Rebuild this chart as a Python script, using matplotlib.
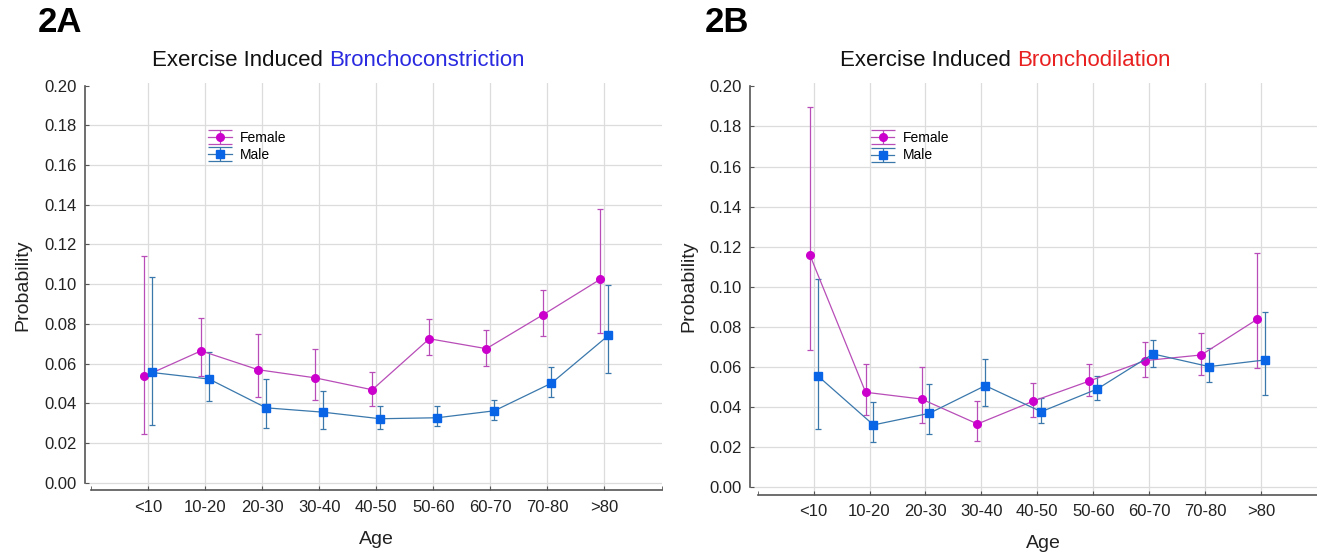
import numpy as np
import matplotlib
matplotlib.use("Agg")
import matplotlib.pyplot as plt
from matplotlib.lines import Line2D
from matplotlib.container import ErrorbarContainer
from matplotlib.legend_handler import HandlerErrorbar
from matplotlib.offsetbox import TextArea, HPacker, AnnotationBbox

plt.rcParams["font.family"] = ["Liberation Sans", "DejaVu Sans"]

# ---------------- data ----------------
age_groups = ["<10", "10-20", "20-30", "30-40", "40-50", "50-60", "60-70", "70-80", ">80"]

# 2A: bronchoconstriction
a_female = [0.0535, 0.0664, 0.0569, 0.0528, 0.0468, 0.0725, 0.0675, 0.0847, 0.1025]
a_female_lo = [0.0243, 0.0537, 0.0434, 0.0414, 0.0386, 0.0641, 0.0590, 0.0737, 0.0752]
a_female_hi = [0.1140, 0.0831, 0.0750, 0.0673, 0.0559, 0.0827, 0.0770, 0.0973, 0.1380]
a_male = [0.0555, 0.0522, 0.0377, 0.0355, 0.0322, 0.0327, 0.0362, 0.0501, 0.0742]
a_male_lo = [0.0292, 0.0413, 0.0273, 0.0270, 0.0268, 0.0283, 0.0315, 0.0434, 0.0550]
a_male_hi = [0.1037, 0.0660, 0.0522, 0.0464, 0.0384, 0.0384, 0.0416, 0.0585, 0.0997]

# 2B: bronchodilation
b_female = [0.1161, 0.0474, 0.0440, 0.0316, 0.0430, 0.0530, 0.0632, 0.0660, 0.0838]
b_female_lo = [0.0685, 0.0359, 0.0319, 0.0231, 0.0351, 0.0453, 0.0552, 0.0562, 0.0595]
b_female_hi = [0.1895, 0.0617, 0.0602, 0.0432, 0.0520, 0.0615, 0.0723, 0.0770, 0.1170]
b_male = [0.0557, 0.0311, 0.0369, 0.0507, 0.0377, 0.0490, 0.0665, 0.0602, 0.0635]
b_male_lo = [0.0291, 0.0227, 0.0266, 0.0407, 0.0319, 0.0433, 0.0598, 0.0525, 0.0462]
b_male_hi = [0.1038, 0.0424, 0.0514, 0.0639, 0.0444, 0.0553, 0.0735, 0.0695, 0.0872]

y_ticks = [0.00, 0.02, 0.04, 0.06, 0.08, 0.10, 0.12, 0.14, 0.16, 0.18, 0.20]

F_MARK = "#cc00cc"
F_LINE = "#b84db8"
M_MARK = "#0a64e6"
M_LINE = "#3a78ac"
GRID = "#dcdcdc"
SPINE = "#555555"


class WideCapHandler(HandlerErrorbar):
    # legend caps span the whole handle, like the original
    def create_artists(self, *args, **kwargs):
        artists = super().create_artists(*args, **kwargs)
        for a in artists:
            if isinstance(a, Line2D) and a.get_marker() == "_":
                a.set_markersize(17)
        return artists


def draw_panel(ax, female, f_lo, f_hi, male, m_lo, m_hi, xlim, ybot, legend_xy):
    x = np.arange(len(age_groups))
    f = np.array(female)
    m = np.array(male)
    ferr = [f - np.array(f_lo), np.array(f_hi) - f]
    merr = [m - np.array(m_lo), np.array(m_hi) - m]

    ax.errorbar(x - 0.07, f, yerr=ferr, color=F_LINE, lw=0.9, elinewidth=0.9,
                capsize=2.2, capthick=0.9, marker="o", ms=5.5, mfc=F_MARK,
                mec=F_MARK, label="Female", zorder=3)
    ax.errorbar(x + 0.07, m, yerr=merr, color=M_LINE, lw=0.9, elinewidth=0.9,
                capsize=2.2, capthick=0.9, marker="s", ms=5.8, mfc=M_MARK,
                mec=M_MARK, label="Male", zorder=3)

    ax.set_xlim(*xlim)
    ax.set_ylim(ybot, 0.2015)
    ax.set_xticks(x)
    ax.set_xticklabels(age_groups)
    ax.set_xticks([-1, 9], minor=True)
    ax.set_yticks(y_ticks)
    ax.set_yticklabels([f"{v:.2f}" for v in y_ticks])

    ax.grid(True, color=GRID, lw=0.9)
    ax.get_ygridlines()[-1].set_visible(False)
    ax.set_axisbelow(True)

    for s in ["top", "right"]:
        ax.spines[s].set_visible(False)
    ax.spines["left"].set_bounds(0, 0.2)
    ax.spines["bottom"].set_bounds(-1, 9)
    for s in ["left", "bottom"]:
        ax.spines[s].set_color(SPINE)
        ax.spines[s].set_linewidth(1.2)

    ax.tick_params(axis="both", which="both", direction="in", length=3,
                   color=SPINE, labelsize=12, labelcolor="#222222")
    ax.tick_params(axis="y", pad=6)
    ax.tick_params(axis="x", pad=7)

    ax.legend(loc="upper left", bbox_to_anchor=legend_xy, frameon=False,
              fontsize=10, handlelength=1.7, handletextpad=0.6,
              labelspacing=0.25, borderpad=0, borderaxespad=0,
              handler_map={ErrorbarContainer: WideCapHandler()})


def two_color_title(fig, xy, first, second, color):
    t1 = TextArea(first, textprops=dict(fontsize=16, color="#111111"))
    t2 = TextArea(second, textprops=dict(fontsize=16, color=color))
    box = HPacker(children=[t1, t2], align="baseline", pad=0, sep=4.5)
    ab = AnnotationBbox(box, xy, xycoords="figure fraction", frameon=False,
                        box_alignment=(0.5, 0.5))
    fig.add_artist(ab)


W, H = 1317, 558
fig = plt.figure(figsize=(W / 100, H / 100), dpi=100)

ax_a = fig.add_axes([85 / W, 1 - 490 / H, 576.5 / W, (490 - 82.7) / H])
ax_b = fig.add_axes([750 / W, 1 - 494.7 / H, 567 / W, (494.7 - 83.3) / H])

draw_panel(ax_a, a_female, a_female_lo, a_female_hi, a_male, a_male_lo, a_male_hi,
           (-1.105, 9.0), -0.0037, (0.2135, 0.882))
draw_panel(ax_b, b_female, b_female_lo, b_female_hi, b_male, b_male_lo, b_male_hi,
           (-1.137, 8.78), -0.0037, (0.213, 0.884))

two_color_title(fig, (338 / W, 1 - 60 / H), "Exercise Induced", "Bronchoconstriction", "#2a2ae0")
two_color_title(fig, (1005 / W, 1 - 61 / H), "Exercise Induced", "Bronchodilation", "#e82020")

fig.text(23 / W, 1 - 285 / H, "Probability", rotation=90, ha="center", va="center",
         fontsize=14, color="#222222")
fig.text(689 / W, 1 - 286 / H, "Probability", rotation=90, ha="center", va="center",
         fontsize=14, color="#222222")
fig.text(376 / W, 1 - 539 / H, "Age", ha="center", va="center", fontsize=14, color="#222222")
fig.text(1043 / W, 1 - 544 / H, "Age", ha="center", va="center", fontsize=14, color="#222222")

fig.text(38 / W, 1 - 23 / H, "2A", ha="left", va="center", fontsize=25, fontweight="bold")
fig.text(705 / W, 1 - 23 / H, "2B", ha="left", va="center", fontsize=25, fontweight="bold")

fig.savefig("out.png", dpi=100)
